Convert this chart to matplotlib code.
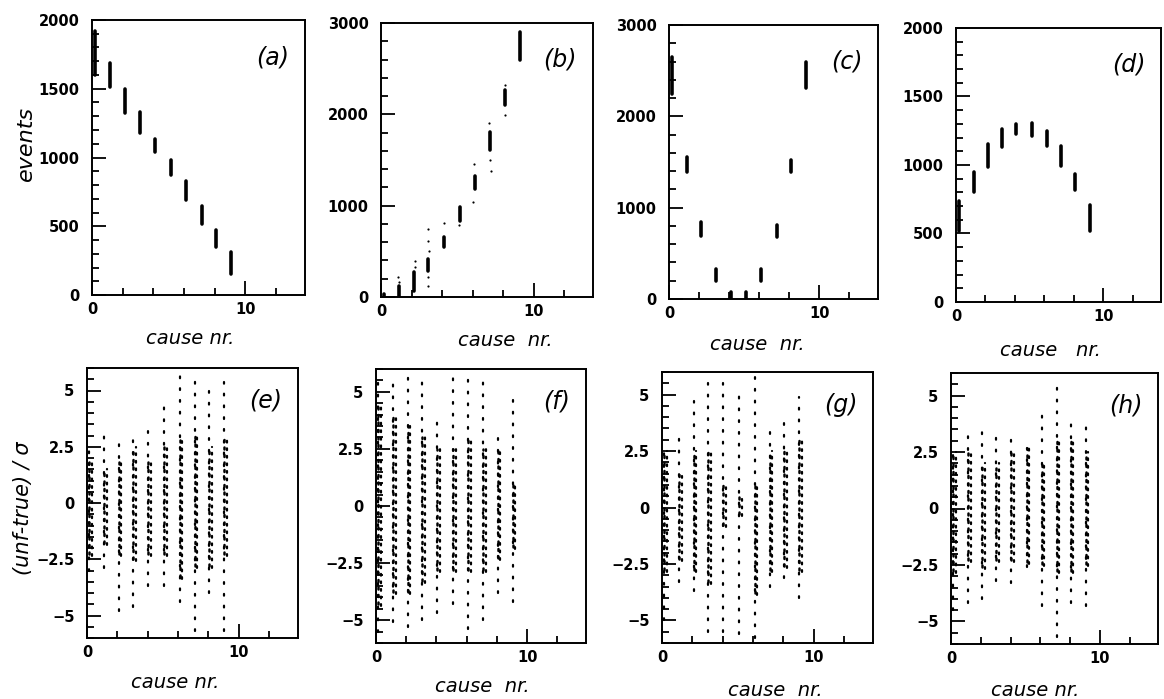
import matplotlib
matplotlib.use("Agg")
import matplotlib.pyplot as plt
from matplotlib.ticker import MultipleLocator, FixedLocator

# ---------------- data ----------------
causes = [0, 1, 2, 3, 4, 5, 6, 7, 8, 9]
cause_x = [0.2, 1.2, 2.15, 3.1, 4.1, 5.15, 6.15, 7.15, 8.1, 9.1]

# top row: cluster low / high (events)
a_lo = [1600, 1510, 1320, 1175, 1040, 870, 690, 515, 350, 150]
a_hi = [1920, 1685, 1500, 1330, 1135, 980, 830, 650, 470, 315]
b_lo = [0, 0, 65, 285, 545, 835, 1185, 1605, 2100, 2600]
b_hi = [30, 120, 270, 415, 655, 985, 1330, 1810, 2265, 2905]
c_lo = [2250, 1390, 695, 200, 0, 0, 200, 675, 1390, 2305]
c_hi = [2650, 1555, 840, 330, 75, 75, 330, 805, 1525, 2600]
d_lo = [520, 800, 985, 1130, 1225, 1215, 1140, 995, 815, 520]
d_hi = [740, 950, 1155, 1265, 1300, 1305, 1250, 1140, 935, 705]

# outliers in panel (b)
b_out_x = [1.1, 1.2, 2.2, 2.25, 3.05, 3.1, 3.15, 3.1, 3.05, 4.15, 5.1, 6.1, 6.05, 7.1, 7.15, 7.2, 8.1, 8.15]
b_out_y = [215, 160, 330, 395, 745, 615, 505, 215, 120, 805, 790, 1460, 1035, 1900, 1495, 1385, 1990, 2320]

# bottom row: (unf-true)/sigma  -> sparse extent and dense core for each cause
e_lo = [-3.0, -2.9, -4.8, -4.6, -3.7, -3.7, -4.4, -5.7, -4.0, -5.7]
e_hi = [2.5, 3.1, 2.9, 3.1, 3.5, 4.6, 6.0, 5.6, 5.1, 5.4]
e_clo = [-2.5, -2.0, -2.5, -2.7, -2.5, -2.5, -3.5, -3.0, -3.0, -2.5]
e_chi = [2.0, 1.5, 2.0, 2.5, 2.0, 2.5, 3.0, 3.0, 2.5, 3.0]

f_lo = [-5.5, -5.1, -5.3, -5.0, -4.7, -4.3, -5.4, -5.0, -3.8, -4.2]
f_hi = [5.5, 5.7, 5.8, 5.7, 4.0, 5.8, 5.8, 5.7, 3.0, 5.0]
f_clo = [-4.5, -4.0, -4.0, -3.5, -3.0, -3.0, -3.0, -3.0, -2.5, -2.0]
f_chi = [4.5, 4.0, 3.5, 3.0, 2.5, 2.5, 3.0, 2.5, 2.5, 1.0]

g_lo = [-5.0, -3.3, -3.7, -5.5, -5.5, -5.6, -5.8, -3.5, -3.1, -4.0]
g_hi = [2.5, 3.3, 4.7, 5.5, 5.5, 5.2, 5.9, 3.5, 4.0, 4.9]
g_clo = [-3.0, -2.5, -3.0, -3.5, -1.0, -0.5, -4.0, -3.0, -2.8, -3.0]
g_chi = [2.5, 1.5, 2.5, 2.5, 1.0, 0.5, 1.0, 2.5, 2.5, 3.0]

h_lo = [-4.5, -4.2, -4.0, -3.2, -3.3, -2.6, -4.3, -5.7, -4.2, -4.3]
h_hi = [2.5, 3.6, 3.8, 3.4, 3.4, 2.7, 4.5, 5.6, 4.0, 4.0]
h_clo = [-3.0, -2.5, -2.8, -2.5, -2.5, -2.6, -2.7, -3.0, -3.0, -2.7]
h_chi = [2.5, 2.5, 2.0, 2.0, 2.5, 2.7, 2.0, 3.0, 3.0, 2.5]

top_labels = ["(a)", "(b)", "(c)", "(d)"]
bot_labels = ["(e)", "(f)", "(g)", "(h)"]
top_xlabels = ["cause nr.", "cause  nr.", "cause  nr.", "cause   nr."]
bot_xlabels = ["cause nr.", "cause  nr.", "cause  nr.", "cause nr."]
top_ylim = [2000, 3000, 3000, 2000]
top_major = [500, 1000, 1000, 500]
top_minor = [100, 200, 200, 100]
bot_major = [-5, -2.5, 0, 2.5, 5]
bot_ticklabels = ["\u22125", "\u22122.5", "0", "2.5", "5"]

# ---------------- layout ----------------
W, H = 1164, 699
fig = plt.figure(figsize=(W / 100, H / 100), dpi=100)

top_boxes = [(92, 20, 305, 295), (381, 23, 593, 297), (669, 25, 878, 299), (956, 28, 1161, 302)]
bot_boxes = [(87, 368, 298, 638), (376, 369, 586, 643), (662, 372, 873, 643), (951, 373, 1158, 644)]
top_xlab = [(190, 338), (505, 341), (757, 345), (1050, 350)]
bot_xlab = [(175, 682), (482, 686), (775, 690), (1035, 690)]


def make_ax(box):
    l, t, r, b = box
    ax = fig.add_axes([l / W, 1 - b / H, (r - l) / W, (b - t) / H])
    for s in ax.spines.values():
        s.set_linewidth(1.4)
    ax.set_xlim(0, 13.9)
    ax.xaxis.set_major_locator(FixedLocator([0, 10]))
    ax.xaxis.set_minor_locator(FixedLocator([2, 4, 6, 8, 12]))
    ax.tick_params(which="both", direction="in", top=False, right=False, width=1.3)
    ax.tick_params(which="major", length=10)
    ax.tick_params(which="minor", length=5)
    ax.tick_params(axis="x", which="major", pad=5)
    ax.tick_params(axis="y", which="major", pad=9)
    return ax


def style_ticks(ax):
    for lab in ax.get_xticklabels() + ax.get_yticklabels():
        lab.set_fontweight("bold")
        lab.set_fontsize(10.5)
        lab.set_family("DejaVu Sans")


top_data = [(a_lo, a_hi), (b_lo, b_hi), (c_lo, c_hi), (d_lo, d_hi)]
for i, (lo, hi) in enumerate(top_data):
    ax = make_ax(top_boxes[i])
    ax.set_ylim(0, top_ylim[i])
    ax.yaxis.set_major_locator(MultipleLocator(top_major[i]))
    ax.yaxis.set_minor_locator(MultipleLocator(top_minor[i]))
    ax.vlines(cause_x, lo, hi, colors="black", linewidth=2.6, capstyle="round")
    if i == 1:
        ax.scatter(b_out_x, b_out_y, s=2.5, color="black", linewidths=0)
    style_ticks(ax)
    ax.text(0.925, 0.865, top_labels[i], transform=ax.transAxes, ha="right", va="center",
            fontsize=17, style="italic", family="DejaVu Sans")
    x, y = top_xlab[i]
    fig.text(x / W, 1 - y / H, top_xlabels[i], ha="center", va="center", fontsize=14,
             style="italic", family="DejaVu Sans")

bot_data = [(e_lo, e_hi, e_clo, e_chi), (f_lo, f_hi, f_clo, f_chi),
            (g_lo, g_hi, g_clo, g_chi), (h_lo, h_hi, h_clo, h_chi)]
for i, (lo, hi, clo, chi) in enumerate(bot_data):
    ax = make_ax(bot_boxes[i])
    ax.set_ylim(-6, 6)
    ax.yaxis.set_major_locator(FixedLocator(bot_major))
    ax.set_yticklabels(bot_ticklabels)
    ax.yaxis.set_minor_locator(MultipleLocator(0.5))
    xs = [c - 0.05 for c in cause_x]
    ax.vlines(xs, lo, hi, colors="black", linewidth=1.6, linestyles=(0, (0.8, 4.5)), capstyle="round")
    ax.vlines(xs, clo, chi, colors="black", linewidth=1.8, linestyles=(1, (0.8, 2.2)), capstyle="round")
    xs2 = [c + 0.12 for c in cause_x]
    ax.vlines(xs2, clo, chi, colors="black", linewidth=1.6, linestyles=(2, (0.8, 2.6)), capstyle="round")
    style_ticks(ax)
    ax.text(0.925, 0.88, bot_labels[i], transform=ax.transAxes, ha="right", va="center",
            fontsize=17, style="italic", family="DejaVu Sans")
    x, y = bot_xlab[i]
    fig.text(x / W, 1 - y / H, bot_xlabels[i], ha="center", va="center", fontsize=14,
             style="italic", family="DejaVu Sans")

fig.text(26 / W, 1 - 143 / H, "events", rotation=90, ha="center", va="center",
         fontsize=16, style="italic", family="DejaVu Sans")
fig.text(23 / W, 1 - 508 / H, "(unf-true) / σ", rotation=90, ha="center", va="center",
         fontsize=15, style="italic", family="DejaVu Sans")

fig.savefig("out.png", dpi=100)
